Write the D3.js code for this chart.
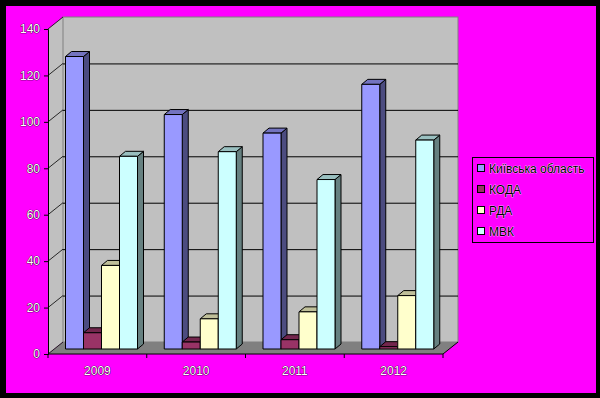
<!DOCTYPE html>
<html>
<head>
<meta charset="utf-8">
<script src="https://cdn.jsdelivr.net/npm/d3@7"></script>
<style>
  body { margin: 0; background: #000; }
  text { font-family: "Liberation Sans", Arial, sans-serif; }
</style>
</head>
<body>
<script>
//// Data ////////////////////////////////////////////
const YEARS = ["2009", "2010", "2011", "2012"]
const SERIES = ["Київська область", "КОДА", "РДА", "МВК"]
const VALUES = [
  [126, 101, 93, 114],  // Київська область
  [7, 3, 4, 1],         // КОДА
  [36, 13, 16, 23],     // РДА
  [83, 85, 73, 90]      // МВК
]
const Y_TICKS = [0, 20, 40, 60, 80, 100, 120, 140]

//// Layout //////////////////////////////////////////
const WIDTH = 600
const HEIGHT = 398

const FRONT_LEFT = 48
const FRONT_RIGHT = 443
const FRONT_BOTTOM = 354
const FRONT_TOP = 29
const DEPTH_X = 15      // back wall offset
const DEPTH_Y = -12
const BAR_DX = 6        // bar front face offset from front plane
const BAR_DY = -5
const BAR_SIDE = 6      // bar depth
const BAR_TOP = -5

const COLORS = ["#9999FF", "#993366", "#FFFFCC", "#CCFFFF"]
const SIDE = ["#4C4C80", "#4D1A33", "#808066", "#668080"]
const TOP = ["#7373BF", "#73264D", "#BFBF99", "#99BFBF"]

const svg = d3.select("body").append("svg")
  .attr("width", WIDTH)
  .attr("height", HEIGHT)

svg.append("rect")
  .attr("x", 0).attr("y", 0).attr("width", WIDTH).attr("height", HEIGHT)
  .attr("fill", "#000")
svg.append("rect")
  .attr("x", 6).attr("y", 6).attr("width", 590).attr("height", 387)
  .attr("fill", "#FF00FF")

const y = d3.scaleLinear().domain([0, 140]).range([FRONT_BOTTOM, FRONT_TOP])
const x = d3.scaleBand().domain(YEARS).range([FRONT_LEFT, FRONT_RIGHT])
const xs = d3.scaleBand().domain(d3.range(SERIES.length)).range([11.5, 83.5])

//// Walls ///////////////////////////////////////////
const pts = a => a.map(p => p.join(",")).join(" ")
const backLeft = FRONT_LEFT + DEPTH_X
const backRight = FRONT_RIGHT + DEPTH_X

// left wall
svg.append("polygon")
  .attr("points", pts([[FRONT_LEFT, y(0)], [backLeft, y(0) + DEPTH_Y],
    [backLeft, y(140) + DEPTH_Y], [FRONT_LEFT, y(140)]]))
  .attr("fill", "#C0C0C0")
// back wall
svg.append("rect")
  .attr("x", backLeft).attr("y", y(140) + DEPTH_Y)
  .attr("width", backRight - backLeft).attr("height", y(0) - y(140))
  .attr("fill", "#C0C0C0").attr("stroke", "#808080")
// floor
svg.append("polygon")
  .attr("points", pts([[FRONT_LEFT, y(0)], [backLeft, y(0) + DEPTH_Y],
    [backRight, y(0) + DEPTH_Y], [FRONT_RIGHT, y(0)]]))
  .attr("fill", "#808080")

// gridlines
const grid = svg.append("g").attr("stroke", "#000").attr("fill", "none")
Y_TICKS.filter(t => t > 0 && t < 140).forEach(t => {
  grid.append("line")
    .attr("x1", backLeft).attr("x2", backRight)
    .attr("y1", y(t) + DEPTH_Y + 0.5).attr("y2", y(t) + DEPTH_Y + 0.5)
})
Y_TICKS.forEach(t => {
  grid.append("line")
    .attr("x1", FRONT_LEFT).attr("y1", y(t))
    .attr("x2", backLeft).attr("y2", y(t) + DEPTH_Y)
    .attr("stroke-width", 0.8)
})

//// Bars ////////////////////////////////////////////
YEARS.forEach((yr, j) => {
  SERIES.forEach((s, i) => {
    const v = VALUES[i][j]
    const x0 = x(yr) + xs(i) + BAR_DX
    const x1 = x0 + xs.bandwidth()
    const yb = y(0) + BAR_DY
    const yt = y(v) + BAR_DY
    const g = svg.append("g").attr("stroke", "#000").attr("stroke-width", 1)
      .attr("stroke-linejoin", "round")
    g.append("polygon")
      .attr("points", pts([[x1, yb], [x1 + BAR_SIDE, yb + BAR_TOP],
        [x1 + BAR_SIDE, yt + BAR_TOP], [x1, yt]]))
      .attr("fill", SIDE[i])
    g.append("polygon")
      .attr("points", pts([[x0, yt], [x1, yt], [x1 + BAR_SIDE, yt + BAR_TOP],
        [x0 + BAR_SIDE, yt + BAR_TOP]]))
      .attr("fill", TOP[i])
    g.append("rect")
      .attr("x", x0).attr("y", yt)
      .attr("width", x1 - x0).attr("height", yb - yt)
      .attr("fill", COLORS[i])
  })
})

//// Axes ////////////////////////////////////////////
const yAxis = svg.append("g")
  .attr("transform", `translate(${FRONT_LEFT},0)`)
  .call(d3.axisLeft(y).tickValues(Y_TICKS).tickSize(4).tickPadding(4))
const xAxis = svg.append("g")
  .attr("transform", `translate(0,${FRONT_BOTTOM})`)
  .call(d3.axisBottom(x).tickSize(0).tickPadding(12))

xAxis.select(".domain").remove()
svg.append("line")
  .attr("x1", FRONT_LEFT).attr("x2", FRONT_RIGHT)
  .attr("y1", FRONT_BOTTOM).attr("y2", FRONT_BOTTOM)
  .attr("stroke", "#000")
svg.append("line")
  .attr("x1", FRONT_RIGHT).attr("y1", FRONT_BOTTOM)
  .attr("x2", backRight).attr("y2", FRONT_BOTTOM + DEPTH_Y)
  .attr("stroke", "#000")
svg.append("g").attr("stroke", "#000")
  .selectAll("line")
  .data(YEARS.map(d => x(d)).concat([FRONT_RIGHT]))
  .join("line")
  .attr("x1", d => d).attr("x2", d => d)
  .attr("y1", FRONT_BOTTOM).attr("y2", FRONT_BOTTOM + 4)

;[yAxis, xAxis].forEach(a => {
  a.selectAll("path, line").attr("stroke", "#000")
  a.selectAll("text")
    .attr("font-size", 12)
    .attr("font-family", "'Liberation Sans', Arial, sans-serif")
    .attr("fill", "#fff")
    .attr("stroke", "#000")
    .attr("stroke-width", 0.7)
    .attr("paint-order", "stroke")
})

//// Legend //////////////////////////////////////////
const legend = svg.append("g").attr("transform", "translate(472,157)")
legend.append("rect")
  .attr("x", 0.5).attr("y", 0.5).attr("width", 121).attr("height", 85)
  .attr("fill", "none").attr("stroke", "#000")
SERIES.forEach((s, i) => {
  const row = legend.append("g").attr("transform", `translate(5,${7 + i * 21})`)
  row.append("rect")
    .attr("x", 0.5).attr("y", 0.5).attr("width", 7).attr("height", 7)
    .attr("fill", COLORS[i]).attr("stroke", "#000")
  row.append("text")
    .attr("x", 12).attr("y", 8.5)
    .attr("font-size", 12)
    .attr("fill", "#000")
    .attr("stroke", "#fff")
    .attr("stroke-width", 0.6)
    .attr("paint-order", "stroke")
    .text(s)
})
</script>
</body>
</html>
